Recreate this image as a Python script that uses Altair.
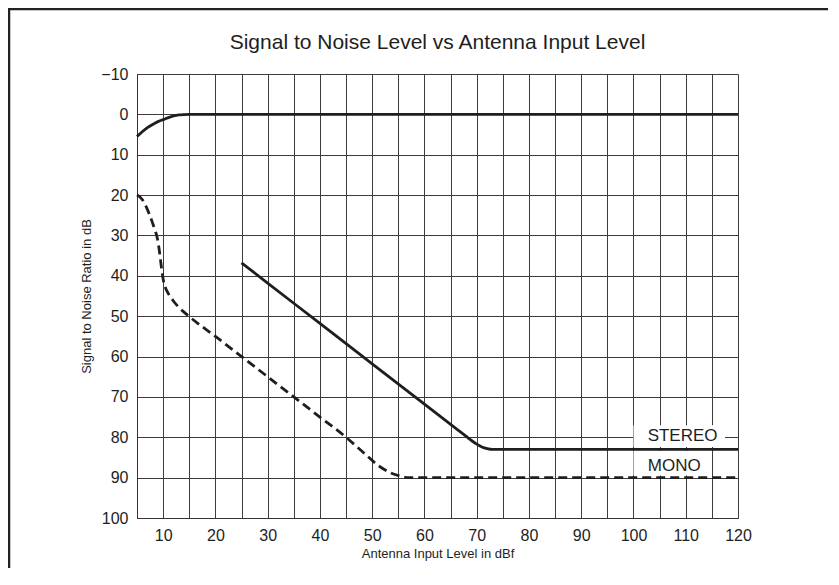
import altair as alt
import pandas as pd

# ---- data ----
top_x = [5, 6, 7, 8, 9, 10, 11, 12, 13, 14, 15, 120]
top_y = [5.5, 4.3, 3.3, 2.5, 1.8, 1.3, 0.8, 0.4, 0.15, 0.05, 0, 0]

mono_x = [5, 5.5, 6, 6.5, 7, 7.5, 8, 8.5, 8.8, 9.1, 9.4, 9.7, 10, 10.4, 11, 12, 13, 14, 15,
          20, 25, 30, 35, 40, 45, 48, 51.5, 53.5, 55.3, 57, 60, 120]
mono_y = [20, 20.4, 21.1, 22.2, 23.6, 25.2, 27, 28.9, 30.2, 32.2, 35, 38.2, 40.8, 42.8, 44.4,
          46.3, 47.8, 49, 50.1, 55, 60, 65, 70, 75, 80, 83.4, 87.3, 88.8, 89.6, 90, 90, 90]

stereo_x = [25, 30, 40, 50, 60, 66, 68, 69, 70, 71, 72, 73, 120]
stereo_y = [36.8, 41.8, 51.8, 61.8, 71.8, 77.8, 79.8, 80.8, 81.7, 82.4, 82.8, 83, 83]

label_text = ["STEREO", "MONO"]
label_x = [109.4, 107.8]
label_y = [79.6, 87.1]
box_x = [100, 100]
box_x2 = [117.5, 114.6]
box_y = [77.0, 83.4]
box_y2 = [82.4, 89.5]

title_text = ["Signal to Noise Level vs Antenna Input Level"]

x_ticks = list(range(5, 121, 5))
y_ticks = list(range(-10, 101, 10))

FONT = "Liberation Sans"
INK = "#1e1e1e"

df = pd.concat([
    pd.DataFrame({"x": top_x, "y": top_y, "s": "top"}),
    pd.DataFrame({"x": mono_x, "y": mono_y, "s": "mono"}),
    pd.DataFrame({"x": stereo_x, "y": stereo_y, "s": "stereo"}),
])
labels = pd.DataFrame({"t": label_text, "x": label_x, "y": label_y,
                       "bx": box_x, "bx2": box_x2, "by": box_y, "by2": box_y2})

xs = alt.Scale(domain=[5, 120], nice=False, zero=False)
ys = alt.Scale(domain=[-10, 100], reverse=True, nice=False, zero=False)

xaxis = alt.Axis(values=x_ticks, labelExpr="datum.value % 10 == 0 ? datum.label : ''",
                 labelOverlap=False, ticks=False, grid=True, gridColor="#3c3c3c", gridWidth=1,
                 gridOpacity=1, domainColor="#333", labelFontSize=16, labelPadding=9,
                 labelColor=INK, labelFont=FONT, titleFont=FONT, titleFontSize=13,
                 titleFontWeight="normal", titleColor=INK, titleY=29, titleBaseline="top",
                 labelFlush=False, title="Antenna Input Level in dBf")
yaxis = alt.Axis(values=y_ticks, labelOverlap=False, ticks=False, grid=True,
                 gridColor="#3c3c3c", gridWidth=1, gridOpacity=1, domainColor="#333",
                 labelFontSize=16, labelPadding=9, labelColor=INK, labelFont=FONT,
                 titleFont=FONT, titleFontSize=13, titleFontWeight="normal", titleColor=INK,
                 titlePadding=7, labelFlush=False, title="Signal to Noise Ratio in dB")

base = alt.Chart(df)

solid = base.transform_filter("datum.s != 'mono'").mark_line(
    color=INK, strokeWidth=2.8, interpolate="monotone"
).encode(
    x=alt.X("x:Q", scale=xs, axis=xaxis),
    y=alt.Y("y:Q", scale=ys, axis=yaxis),
    detail="s:N",
)

dashed = base.transform_filter("datum.s == 'mono'").mark_line(
    color=INK, strokeWidth=2.8, strokeDash=[9, 5], interpolate="monotone"
).encode(x=alt.X("x:Q", scale=xs, axis=xaxis), y=alt.Y("y:Q", scale=ys, axis=yaxis))

boxes = alt.Chart(labels).mark_rect(color="white").encode(
    x=alt.X("bx:Q", scale=xs, axis=xaxis), x2="bx2:Q",
    y=alt.Y("by:Q", scale=ys, axis=yaxis), y2="by2:Q",
)
texts = alt.Chart(labels).mark_text(font=FONT, fontSize=17, color=INK).encode(
    x=alt.X("x:Q", scale=xs, axis=xaxis), y=alt.Y("y:Q", scale=ys, axis=yaxis), text="t:N"
)

title = alt.Chart(pd.DataFrame({"t": title_text})).mark_text(
    font=FONT, fontSize=21, color=INK, baseline="middle", align="center", clip=False
).encode(x=alt.value(300.5), y=alt.value(-31), text="t:N")

frame = alt.Chart(pd.DataFrame({"f": [0]})).mark_rect(
    filled=False, stroke="#222", strokeWidth=2.5, clip=False
).encode(x=alt.value(-128), x2=alt.value(1000), y=alt.value(-65), y2=alt.value(1000))

chart = alt.layer(boxes, solid, dashed, texts, title, frame).properties(
    width=601, height=444,
    padding={"left": 129, "top": 66, "right": 90, "bottom": 50},
    autosize=alt.AutoSizeParams(type="none"),
).configure_view(stroke="#777", strokeWidth=1).configure_axis(
    labelOverlap=False
).configure(background="white")

chart.save("out.html", embed_options={"renderer": "svg", "actions": False})
